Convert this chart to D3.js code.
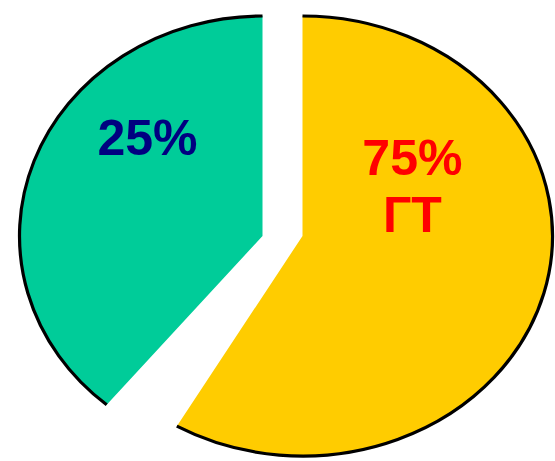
<!DOCTYPE html>
<html>
<head>
<meta charset="utf-8">
<script src="https://cdn.jsdelivr.net/npm/d3@7"></script>
<style>
  body { margin: 0; background: #fff; }
  svg { display: block; }
  .label { font-family: "Liberation Sans", Arial, sans-serif; font-weight: bold; font-size: 50px; }
</style>
</head>
<body>
<svg id="chart" width="555" height="461"></svg>
<script>
// slices, clockwise from 12 o'clock
const sliceNames = ["ГТ", "other"];
const sliceShares = [60, 40];            // share of the circle as it is drawn
const sliceLabels = [["75%", "ГТ"], ["25%"]];
const sliceColors = ["#FFCC00", "#00CC99"];
const labelColors = ["#FF0000", "#000080"];

// layout
const width = 555, height = 461;
const cx = 282.5, cy = 236;
const ry = 220;
const rxs = [250, 243];                  // each slice is stretched a bit sideways
const gapAngle = 9.7 * Math.PI / 180;    // wedge gap at the lower-left cut only
const explodeX = [20, -20];              // slices pulled apart horizontally
const labelPolar = [{ a: 57.7, r: 0.52 }, { a: 307.9, r: 0.6 }]; // degrees, fraction of radius
const lineHeight = 57;

const svg = d3.select("#chart");

const slices = sliceNames.map((name, i) => ({
  name: name, share: sliceShares[i], color: sliceColors[i],
  lines: sliceLabels[i], labelColor: labelColors[i], dx: explodeX[i], rx: rxs[i], lp: labelPolar[i]
}));

// leave room for the gap, then push the later slice past it (top cut stays straight)
const pie = d3.pie()
  .sort(null)
  .value(d => d.share)
  .startAngle(0)
  .endAngle(2 * Math.PI - gapAngle);

const arcs = pie(slices).map((d, i) => i === 0 ? d :
  Object.assign({}, d, { startAngle: d.startAngle + gapAngle, endAngle: d.endAngle + gapAngle }));

const arc = d3.arc().innerRadius(0).outerRadius(ry);

// outer rim only, the cut edges carry no line
function rim(d) {
  const p = d3.path();
  const a0 = d.startAngle - Math.PI / 2;
  const a1 = d.endAngle - Math.PI / 2;
  p.moveTo(ry * Math.cos(a0), ry * Math.sin(a0));
  p.arc(0, 0, ry, a0, a1);
  return p.toString();
}

const g = svg.selectAll("g.slice")
  .data(arcs)
  .join("g")
  .attr("class", "slice")
  .attr("transform", d => `translate(${cx + d.data.dx},${cy}) scale(${d.data.rx / ry},1)`);

g.append("path")
  .attr("d", arc)
  .attr("fill", d => d.data.color);

g.append("path")
  .attr("d", rim)
  .attr("fill", "none")
  .attr("stroke", "#000")
  .attr("stroke-width", 3.2)
  .attr("vector-effect", "non-scaling-stroke");

// labels
svg.selectAll("text.label")
  .data(arcs)
  .join("text")
  .attr("class", "label")
  .attr("text-anchor", "middle")
  .attr("fill", d => d.data.labelColor)
  .each(function (d) {
    const a = d.data.lp.a * Math.PI / 180;
    const r = d.data.lp.r * ry;
    const x = cx + d.data.dx + (d.data.rx / ry) * r * Math.sin(a);
    const y = cy - r * Math.cos(a);
    d3.select(this).selectAll("tspan")
      .data(d.data.lines)
      .join("tspan")
      .attr("x", x)
      .attr("y", (t, i) => y + i * lineHeight)
      .text(t => t);
  });
</script>
</body>
</html>
